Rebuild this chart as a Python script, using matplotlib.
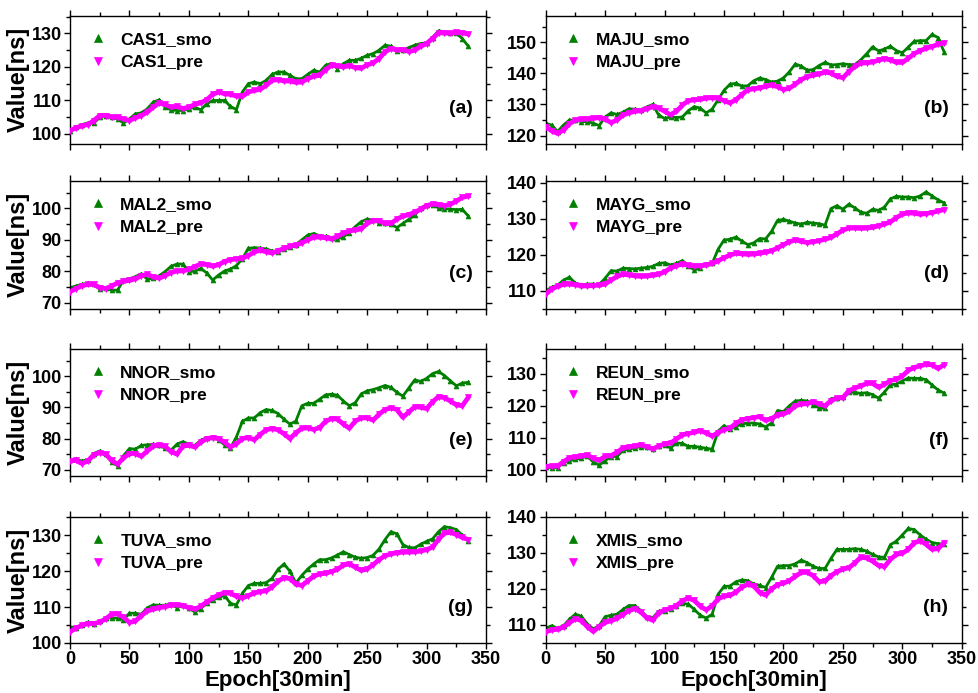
import matplotlib
matplotlib.use('Agg')
import matplotlib.pyplot as plt
from matplotlib.ticker import MultipleLocator

plt.rcParams['font.family'] = ['Liberation Sans', 'DejaVu Sans']
plt.rcParams['font.weight'] = 'bold'
plt.rcParams['axes.labelweight'] = 'bold'

# epochs sampled every 5 (30 min each)
epoch = list(range(0, 340, 5))

cas1_pre = [101.0, 101.8, 102.4, 102.8, 104.0, 105.5, 105.5, 105.0, 105.0, 104.5, 104.0, 104.8, 105.5, 106.5,
            108.0, 109.2, 108.8, 108.0, 108.2, 107.6, 108.0, 108.8, 109.3, 110.2, 111.8, 112.5, 112.0, 111.8,
            111.3, 111.2, 112.5, 113.0, 113.3, 114.5, 116.0, 116.2, 115.8, 115.8, 115.4, 115.5, 116.5, 117.2,
            117.5, 119.2, 120.5, 120.3, 120.0, 120.4, 119.8, 119.6, 120.6, 121.2, 122.5, 124.5, 125.5, 125.0,
            125.2, 124.6, 125.0, 126.2, 127.0, 128.5, 130.2, 130.2, 130.0, 130.3, 130.2, 129.8]
cas1_smo = [101.0, 102.0, 102.8, 103.3, 103.2, 105.0, 105.3, 105.0, 104.5, 103.3, 104.5, 106.0, 106.3, 107.5,
            109.5, 110.2, 108.0, 107.2, 107.0, 107.0, 107.5, 108.0, 107.2, 109.0, 110.0, 110.0, 110.0, 108.2,
            107.3, 112.5, 115.0, 115.5, 115.0, 116.0, 117.8, 118.5, 118.5, 117.5, 116.5, 116.5, 117.8, 119.0,
            118.5, 120.5, 121.0, 119.5, 121.0, 122.0, 122.0, 122.6, 123.5, 124.0, 125.0, 126.5, 126.2, 124.8,
            125.0, 125.8, 126.5, 127.0, 127.2, 128.8, 130.8, 130.5, 130.2, 130.0, 128.5, 126.2]

maju_pre = [122.9, 121.5, 120.7, 121.8, 123.8, 125.0, 125.2, 125.3, 125.5, 125.8, 125.2, 124.2, 125.0, 126.6,
            127.3, 127.8, 128.0, 128.6, 129.3, 128.9, 127.8, 126.7, 127.8, 129.8, 131.2, 131.5, 131.6, 132.0,
            132.2, 132.0, 131.2, 130.5, 131.5, 133.2, 134.7, 135.0, 135.3, 135.8, 136.2, 135.7, 134.8, 135.2,
            136.5, 138.0, 138.9, 139.4, 139.8, 140.4, 140.0, 139.0, 138.6, 140.5, 142.2, 143.2, 143.4, 143.6,
            144.2, 144.7, 144.3, 143.5, 143.5, 144.8, 146.3, 147.3, 148.0, 148.6, 149.3, 149.7]
maju_smo = [123.9, 123.4, 121.3, 123.4, 125.0, 125.0, 124.5, 124.5, 124.0, 123.2, 126.0, 127.3, 126.8, 127.5,
            128.6, 128.5, 128.3, 129.2, 130.0, 126.6, 125.5, 126.0, 125.8, 126.0, 128.0, 129.3, 128.8, 127.3,
            128.5, 131.5, 134.5, 136.5, 136.8, 135.9, 136.0, 137.6, 138.5, 138.0, 137.2, 137.5, 138.5, 140.5,
            143.0, 142.3, 141.0, 141.2, 142.5, 143.5, 142.7, 142.8, 143.1, 142.8, 142.8, 144.3, 146.3, 148.5,
            147.2, 147.8, 148.7, 147.3, 146.6, 148.4, 150.3, 150.5, 150.5, 152.5, 151.5, 147.0]

mal2_pre = [73.5, 74.5, 75.4, 75.8, 75.8, 74.8, 74.5, 75.3, 76.3, 76.8, 77.1, 77.6, 78.6, 79.0,
            78.2, 77.8, 78.6, 79.6, 80.1, 80.1, 80.6, 81.5, 82.3, 82.1, 81.6, 82.1, 83.1, 83.7,
            83.9, 84.1, 85.0, 86.1, 86.7, 86.2, 85.8, 86.5, 87.3, 87.9, 88.3, 89.0, 90.0, 90.8,
            90.9, 90.6, 90.3, 91.1, 92.1, 92.8, 93.1, 93.5, 95.2, 96.1, 96.1, 95.2, 95.2, 96.6,
            97.5, 98.0, 98.8, 99.7, 100.9, 101.4, 101.2, 100.9, 101.3, 102.3, 103.5, 103.9]
mal2_smo = [74.8, 75.3, 75.8, 76.2, 75.8, 74.3, 74.7, 74.0, 74.0, 77.2, 77.6, 78.3, 79.2, 77.5,
            77.8, 78.6, 79.9, 81.6, 82.3, 82.3, 79.9, 80.0, 80.9, 79.5, 77.2, 78.8, 80.1, 80.7,
            81.8, 84.0, 87.3, 87.5, 87.4, 87.1, 86.5, 86.0, 87.2, 87.6, 88.5, 90.0, 91.5, 92.0,
            91.3, 91.1, 90.6, 90.3, 91.0, 92.3, 94.2, 95.8, 96.6, 96.3, 95.4, 95.2, 95.0, 93.9,
            95.2, 96.5, 97.8, 100.2, 101.0, 101.0, 100.2, 99.9, 99.8, 99.6, 99.7, 97.6]

mayg_pre = [109.1, 110.5, 111.3, 111.8, 111.9, 111.7, 111.4, 111.4, 111.5, 111.6, 111.9, 113.0, 114.0, 114.6,
            114.4, 114.2, 114.0, 114.1, 114.3, 114.6, 115.3, 116.3, 117.0, 117.4, 117.1, 116.9, 116.9, 117.2,
            117.6, 118.3, 119.2, 119.9, 120.4, 120.3, 120.1, 120.2, 120.4, 120.7, 121.1, 121.9, 122.8, 123.6,
            124.1, 123.7, 123.4, 123.6, 123.9, 124.3, 124.8, 125.8, 126.8, 127.4, 127.4, 127.3, 127.4, 127.6,
            128.0, 128.5, 129.1, 130.3, 131.2, 131.6, 131.5, 131.2, 131.4, 131.7, 132.1, 132.5]
mayg_smo = [110.0, 111.0, 111.6, 113.0, 113.8, 112.1, 111.7, 111.9, 111.9, 111.8, 113.5, 115.6, 115.5, 116.3,
            116.2, 116.1, 116.3, 116.5, 116.8, 117.6, 117.8, 117.2, 117.6, 118.4, 117.0, 115.8, 116.3, 117.5,
            117.6, 121.5, 124.1, 124.3, 124.9, 123.8, 122.8, 123.3, 124.5, 124.4, 126.5, 129.5, 129.8, 129.3,
            128.8, 128.5, 129.0, 128.8, 128.6, 128.2, 132.8, 133.6, 132.6, 134.0, 133.0, 131.8, 131.5, 132.6,
            132.3, 133.2, 135.5, 136.2, 136.0, 136.0, 135.8, 136.3, 137.4, 136.3, 135.2, 134.4]

nnor_pre = [72.8, 73.0, 72.0, 72.8, 74.8, 75.5, 75.0, 73.0, 71.8, 73.8, 75.2, 75.2, 74.3, 76.0,
            77.5, 78.0, 77.5, 75.8, 75.0, 77.6, 77.8, 77.3, 78.8, 80.0, 80.3, 80.0, 78.8, 77.3,
            78.3, 80.0, 80.3, 79.6, 81.3, 82.8, 83.2, 82.8, 81.5, 80.0, 81.8, 83.3, 83.4, 82.9,
            83.5, 85.5, 86.4, 86.2, 84.6, 83.3, 85.6, 86.6, 86.6, 85.9, 87.8, 89.3, 89.8, 89.3,
            86.8, 88.5, 90.2, 90.0, 89.6, 91.8, 93.4, 93.1, 92.0, 90.8, 90.5, 93.2]
nnor_smo = [73.0, 73.4, 72.8, 73.2, 75.2, 76.0, 75.0, 72.5, 71.3, 74.5, 76.8, 76.6, 77.8, 78.0,
            78.2, 77.8, 76.9, 76.3, 78.2, 79.0, 78.2, 77.8, 79.4, 80.3, 80.4, 79.6, 78.0, 77.0,
            80.5, 85.5, 86.6, 86.6, 88.3, 89.3, 89.0, 88.0, 86.2, 84.6, 85.6, 90.5, 91.3, 91.3,
            92.6, 94.0, 94.2, 93.9, 92.0, 90.5, 91.5, 94.3, 95.3, 95.7, 96.3, 97.0, 96.4, 94.8,
            93.6, 96.2, 98.8, 98.3, 99.3, 100.8, 101.5, 100.2, 98.5, 96.9, 97.8, 98.0]

reun_pre = [100.9, 101.1, 101.1, 102.5, 103.7, 104.0, 104.2, 104.6, 103.5, 102.9, 104.2, 104.4, 105.4, 106.8,
            107.1, 107.4, 107.8, 107.2, 106.5, 107.3, 108.1, 108.3, 109.6, 110.9, 111.3, 111.7, 112.2, 111.5,
            110.5, 111.6, 112.5, 113.0, 114.5, 115.6, 116.0, 116.3, 116.6, 115.4, 116.0, 117.1, 117.4, 118.3,
            120.0, 120.5, 120.7, 121.3, 120.6, 120.0, 121.6, 122.4, 122.6, 124.7, 125.6, 126.2, 127.0, 127.0,
            125.8, 126.7, 127.9, 128.3, 129.3, 131.1, 132.0, 132.5, 133.0, 132.8, 131.7, 132.8]
reun_smo = [100.9, 100.6, 100.6, 102.2, 102.8, 103.2, 103.7, 104.2, 102.4, 101.4, 102.8, 104.1, 104.1, 106.0,
            106.4, 106.8, 107.2, 107.0, 106.4, 107.5, 107.6, 106.8, 108.4, 108.2, 107.3, 107.3, 107.0, 106.7,
            106.4, 112.0, 113.8, 112.7, 113.5, 114.3, 114.6, 114.6, 114.3, 113.4, 114.6, 118.5, 118.2, 120.0,
            121.5, 121.7, 121.5, 120.3, 119.3, 119.2, 122.2, 122.6, 122.7, 124.2, 124.2, 123.9, 124.1, 123.5,
            122.4, 124.3, 126.6, 126.8, 127.8, 128.7, 128.6, 128.6, 128.2, 126.5, 125.0, 124.0]

tuva_pre = [103.1, 104.1, 104.9, 105.4, 105.4, 105.8, 106.7, 108.0, 108.1, 107.2, 105.7, 106.1, 107.6, 108.9,
            109.4, 109.8, 110.1, 110.5, 110.6, 110.4, 109.8, 109.4, 110.2, 111.4, 112.5, 113.4, 114.0, 113.8,
            113.0, 112.5, 113.2, 113.9, 114.3, 114.5, 115.6, 117.2, 118.2, 117.9, 116.4, 116.0, 117.3, 118.6,
            119.2, 119.4, 119.9, 120.5, 121.7, 122.0, 121.1, 120.2, 120.6, 121.8, 123.2, 124.3, 124.8, 125.1,
            125.3, 125.3, 125.4, 125.6, 126.0, 126.7, 128.9, 130.6, 130.8, 130.2, 129.4, 128.8]
tuva_smo = [104.5, 104.2, 104.9, 105.8, 105.3, 106.0, 106.9, 107.0, 106.9, 106.5, 108.3, 108.3, 108.0, 109.8,
            110.6, 110.5, 110.5, 110.9, 109.8, 110.6, 109.8, 108.6, 109.6, 111.0, 111.9, 112.7, 113.2, 111.0,
            110.6, 113.8, 116.0, 116.6, 116.6, 116.8, 118.0, 120.5, 122.0, 120.0, 116.7, 118.8, 120.6, 122.0,
            123.2, 123.2, 123.7, 124.5, 125.4, 124.6, 123.9, 123.6, 123.8, 124.4, 126.2, 128.8, 131.0, 130.4,
            127.4, 126.6, 126.5, 127.5, 128.3, 129.0, 131.0, 132.4, 132.1, 131.6, 130.0, 128.4]

xmis_pre = [108.1, 108.6, 108.8, 109.4, 110.6, 111.7, 111.2, 109.5, 108.2, 109.5, 110.7, 111.2, 111.8, 112.9,
            114.0, 114.5, 113.6, 112.0, 111.3, 113.3, 114.2, 114.6, 115.4, 116.7, 117.5, 116.8, 115.2, 114.2,
            115.3, 117.2, 118.0, 118.2, 119.1, 120.5, 121.3, 120.8, 119.0, 118.3, 120.0, 121.2, 121.6, 122.3,
            123.5, 124.6, 124.6, 123.7, 122.0, 122.2, 123.7, 124.8, 125.5, 125.9, 127.2, 128.8, 128.6, 127.7,
            126.5, 126.2, 128.2, 129.6, 129.9, 131.0, 132.8, 133.4, 132.4, 131.0, 131.2, 132.8]
xmis_smo = [109.1, 109.8, 109.1, 109.8, 111.6, 113.0, 112.4, 110.3, 108.9, 109.8, 112.3, 112.7, 113.0, 114.3,
            115.4, 115.4, 114.0, 112.3, 112.0, 113.8, 114.0, 114.3, 115.3, 116.0, 115.8, 114.3, 112.7, 111.9,
            113.0, 118.5, 120.7, 120.8, 122.0, 122.5, 122.3, 121.4, 121.0, 120.4, 123.2, 126.3, 126.5, 126.5,
            127.0, 128.0, 127.3, 126.3, 125.7, 125.7, 128.5, 131.0, 131.0, 131.0, 131.2, 131.0, 130.5, 129.6,
            128.9, 128.8, 132.3, 133.3, 135.0, 136.8, 136.5, 135.0, 133.8, 132.9, 132.6, 132.4]

stations = ['CAS1', 'MAJU', 'MAL2', 'MAYG', 'NNOR', 'REUN', 'TUVA', 'XMIS']
smo_data = [cas1_smo, maju_smo, mal2_smo, mayg_smo, nnor_smo, reun_smo, tuva_smo, xmis_smo]
pre_data = [cas1_pre, maju_pre, mal2_pre, mayg_pre, nnor_pre, reun_pre, tuva_pre, xmis_pre]
panel_tags = ['(a)', '(b)', '(c)', '(d)', '(e)', '(f)', '(g)', '(h)']
ylims = [(97, 135.3), (117.3, 158.5), (68, 108.8), (105, 140.5),
         (68, 108.7), (98, 137.8), (100, 135.1), (105, 140)]

GREEN = '#008000'
MAGENTA = '#ff00ff'

fig = plt.figure(figsize=(9.79, 6.93), dpi=100)
col_x = [0.0715, 0.5574]
col_w = 0.425
row_y = [0.7922, 0.5541, 0.3131, 0.0722]
row_h = [0.1851, 0.1851, 0.1833, 0.1818]

for i, name in enumerate(stations):
    r, c = divmod(i, 2)
    ax = fig.add_axes([col_x[c], row_y[r], col_w, row_h[r]])

    ax.plot(epoch, smo_data[i], '-', color=GREEN, lw=2.0, zorder=2)
    ax.plot(epoch, smo_data[i], '^', color=GREEN, ms=3.5, mec=GREEN, mew=0.5, zorder=2,
            label=f'{name}_smo')
    ax.plot(epoch, pre_data[i], '-', color=MAGENTA, lw=3.4, zorder=3)
    ax.plot(epoch, pre_data[i], 'v', color=MAGENTA, ms=4, mec=MAGENTA, mew=0.5, zorder=3,
            label=f'{name}_pre')

    ax.set_xlim(0, 350)
    ax.set_ylim(*ylims[i])
    ax.xaxis.set_major_locator(MultipleLocator(50))
    ax.xaxis.set_minor_locator(MultipleLocator(25))
    ax.yaxis.set_major_locator(MultipleLocator(10))
    ax.yaxis.set_minor_locator(MultipleLocator(5))
    ax.tick_params(which='both', direction='out', top=True, right=True, width=1,
                   labelsize=13, pad=2)
    ax.tick_params(which='major', length=4)
    ax.tick_params(which='minor', length=3)
    for sp in ax.spines.values():
        sp.set_linewidth(1)

    if r < 3:
        ax.tick_params(labelbottom=False)
    else:
        ax.set_xlabel('Epoch[30min]', fontsize=16, labelpad=1)
    if c == 0:
        ax.set_ylabel('Value[ns]', fontsize=17, labelpad=1)

    ax.legend(loc='upper left', bbox_to_anchor=(0.025, 0.93), frameon=False,
              fontsize=12.5, markerscale=1.5, handlelength=1.2, handletextpad=0.7,
              labelspacing=0.45, borderaxespad=0)
    ax.text(0.968, 0.28, panel_tags[i], transform=ax.transAxes, ha='right', va='center',
            fontsize=14, fontweight='bold')

fig.savefig('out.png', dpi=100)
